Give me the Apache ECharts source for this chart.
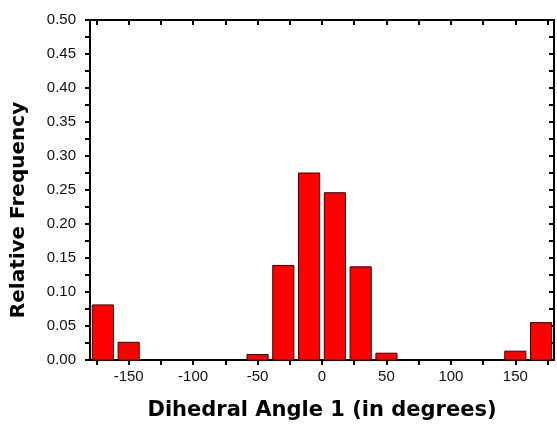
<!DOCTYPE html>
<html>
<head>
<meta charset="utf-8">
<script src="https://cdn.jsdelivr.net/npm/echarts@6/dist/echarts.min.js"></script>
<style>
  html, body { margin: 0; padding: 0; background: #fff; }
  #chart { width: 557px; height: 424px; }
</style>
</head>
<body>
<div id="chart"></div>
<script>
// Histogram of dihedral angle 1, bins of 20 degrees
const binCenters = [-170, -150, -50, -30, -10, 10, 30, 50, 150, 170];
const relFreq    = [0.081, 0.026, 0.008, 0.139, 0.275, 0.246, 0.137, 0.010, 0.013, 0.055];
const binWidth = 20;
const xTicks = [-150, -100, -50, 0, 50, 100, 150];
const xMinorTicks = [-175, -150, -125, -100, -75, -50, -25, 0, 25, 50, 75, 100, 125, 150, 175];
const yTicks = [0, 0.05, 0.1, 0.15, 0.2, 0.25, 0.3, 0.35, 0.4, 0.45, 0.5];
const xTitle = 'Dihedral Angle 1 (in degrees)';
const yTitle = 'Relative Frequency';

const FONT = '"Liberation Sans", Arial, sans-serif';
const TITLE_FONT = '"DejaVu Sans", "Liberation Sans", sans-serif';
const chart = echarts.init(document.getElementById('chart'), null, { renderer: 'canvas' });

const axisLine = { show: true, onZero: false, lineStyle: { color: '#000', width: 2 } };
const tickStyle = { color: '#000', width: 2 };

chart.setOption({
  animation: false,
  backgroundColor: '#fff',
  grid: { left: 90, right: 3, top: 20, bottom: 64, containLabel: false, outerBoundsMode: 'none' },
  // vertical axis title, set slightly below the plot's middle
  graphic: [{
    type: 'text',
    x: 19, y: 210,
    rotation: Math.PI / 2,
    style: {
      text: yTitle, fontFamily: TITLE_FONT, fontWeight: 'bold', fontSize: 20,
      fill: '#000', align: 'center', verticalAlign: 'middle'
    }
  }],
  xAxis: [
    {
      type: 'value', position: 'bottom', min: -180, max: 180,
      name: xTitle, nameLocation: 'middle', nameGap: 40,
      nameTextStyle: { fontFamily: TITLE_FONT, fontWeight: 'bold', fontSize: 21, color: '#000' },
      axisLine: axisLine,
      axisTick: { show: true, inside: false, length: 5, lineStyle: tickStyle, customValues: xMinorTicks },
      axisLabel: {
        fontFamily: FONT, fontSize: 15, color: '#111', margin: 9,
        customValues: xTicks, formatter: v => String(v)
      },
      splitLine: { show: false }
    },
    {
      type: 'value', position: 'top', min: -180, max: 180,
      axisLine: axisLine,
      axisTick: { show: true, inside: true, length: 5, lineStyle: tickStyle, customValues: xMinorTicks },
      axisLabel: { show: false },
      splitLine: { show: false }
    }
  ],
  yAxis: [
    {
      type: 'value', position: 'left', min: 0, max: 0.5, interval: 0.025,
      axisLine: axisLine,
      axisTick: { show: true, inside: false, length: 5, lineStyle: tickStyle },
      axisLabel: {
        fontFamily: FONT, fontSize: 15, color: '#111', margin: 14,
        customValues: yTicks, formatter: v => v.toFixed(2)
      },
      splitLine: { show: false }
    },
    {
      type: 'value', position: 'right', min: 0, max: 0.5, interval: 0.025,
      axisLine: axisLine,
      axisTick: { show: true, inside: true, length: 5, lineStyle: tickStyle },
      axisLabel: { show: false },
      splitLine: { show: false }
    }
  ],
  series: [{
    type: 'custom',
    xAxisIndex: 0, yAxisIndex: 0,
    data: binCenters.map((c, i) => [c, relFreq[i]]),
    renderItem: function (params, api) {
      const c = api.value(0), f = api.value(1);
      const half = binWidth * 0.41;
      const p0 = api.coord([c - half, f]);
      const p1 = api.coord([c + half, 0]);
      return {
        type: 'rect',
        shape: { x: p0[0], y: p0[1], width: p1[0] - p0[0], height: p1[1] - p0[1] },
        style: { fill: '#ff0000', stroke: '#3a0000', lineWidth: 1 }
      };
    },
    z: 1
  }]
});
</script>
</body>
</html>
